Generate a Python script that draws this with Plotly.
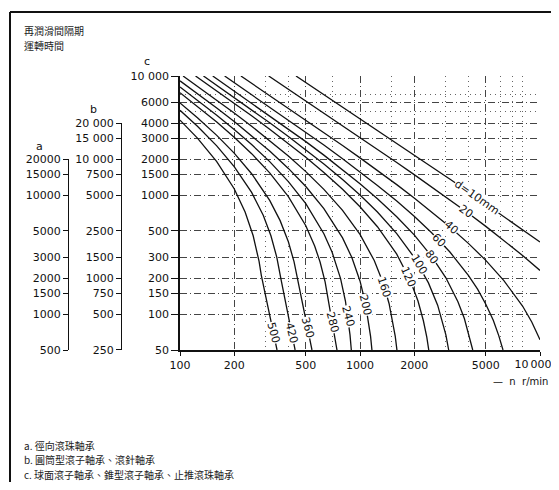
import math
import plotly.graph_objects as go

# ---------------- data ----------------
# bearing bore diameters d (mm) and the relubrication-interval curves (scale c, hours)
d_values = [10, 20, 40, 60, 80, 100, 120, 160, 200, 240, 280, 360, 420, 500]

n_10 = [441, 500, 630, 800, 1000, 1250, 1600, 2000, 2500, 3150, 4000, 5000, 6300, 8000, 10000]
t_10 = [10000, 8814, 6987, 5494, 4387, 3502, 2727, 2174, 1731, 1365, 1067, 845, 663, 513, 403]

n_20 = [311, 400, 500, 630, 800, 1000, 1250, 1600, 2000, 2500, 3150, 4000, 5000, 6300, 8000, 10000]
t_20 = [10000, 7746, 6181, 4889, 3833, 3051, 2424, 1877, 1485, 1172, 914, 703, 546, 417, 311, 233]

n_40 = [218, 250, 315, 400, 500, 630, 800, 1000, 1250, 1600, 2000, 2500, 3150, 4000, 5000, 6300, 8000, 9000, 10000]
t_40 = [10000, 8694, 6867, 5374, 4267, 3354, 2607, 2054, 1611, 1224, 947, 725, 543, 393, 283, 191, 117, 86, 61]

n_60 = [177, 200, 250, 315, 400, 500, 630, 800, 1000, 1250, 1600, 2000, 2500, 3150, 4000, 4500, 5000, 5500, 5900, 6230]
t_60 = [10000, 8797, 6990, 5498, 4279, 3375, 2629, 2019, 1567, 1206, 890, 664, 483, 334, 212, 162, 121, 89, 66, 50]

n_80 = [152, 160, 200, 250, 315, 400, 500, 630, 800, 1000, 1250, 1600, 2000, 2500, 3000, 3500, 3800, 4050, 4230]
t_80 = [10000, 9463, 7507, 5941, 4649, 3593, 2811, 2165, 1637, 1245, 932, 658, 463, 306, 202, 127, 92, 66, 50]

n_100 = [135, 160, 200, 250, 315, 400, 500, 630, 800, 1000, 1250, 1600, 2000, 2400, 2700, 2900, 3000, 3110]
t_100 = [10000, 8350, 6600, 5200, 4044, 3100, 2400, 1822, 1350, 1000, 720, 475, 300, 183, 119, 83, 67, 50]

n_120 = [122, 160, 200, 250, 315, 400, 500, 630, 800, 1000, 1250, 1600, 1900, 2100, 2250, 2350, 2410]
t_120 = [10000, 7508, 5911, 4632, 3577, 2715, 2076, 1549, 1118, 798, 542, 319, 193, 129, 88, 64, 50]

n_160 = [104, 125, 160, 200, 250, 315, 400, 500, 630, 800, 1000, 1200, 1350, 1450, 1530, 1570, 1604]
t_160 = [10000, 8214, 6278, 4894, 3787, 2874, 2127, 1574, 1117, 744, 467, 282, 180, 123, 83, 65, 50]

n_200 = [100, 125, 160, 200, 250, 315, 400, 500, 630, 800, 900, 1000, 1070, 1120, 1145, 1165]
t_200 = [9100, 7120, 5387, 4150, 3160, 2343, 1675, 1180, 771, 437, 300, 190, 125, 84, 65, 50]

n_240 = [100, 125, 160, 200, 250, 315, 400, 500, 630, 700, 780, 830, 865, 880, 895]
t_240 = [8077, 6270, 4688, 3559, 2655, 1909, 1299, 847, 474, 331, 199, 129, 85, 67, 50]

n_280 = [100, 125, 160, 200, 250, 315, 400, 500, 560, 600, 640, 680, 715, 745]
t_280 = [7247, 5573, 4109, 3063, 2227, 1536, 972, 553, 374, 274, 187, 110, 71, 50]

n_360 = [100, 125, 160, 200, 250, 315, 360, 400, 430, 455, 480, 510, 541]
t_360 = [5939, 4463, 3172, 2249, 1511, 902, 610, 405, 276, 182, 122, 78, 50]

n_420 = [100, 125, 160, 200, 250, 290, 320, 345, 365, 385, 410, 436]
t_420 = [5151, 3785, 2590, 1736, 1053, 676, 455, 300, 192, 127, 79, 50]

n_500 = [100, 125, 160, 200, 230, 255, 275, 283, 300, 322, 346]
t_500 = [4261, 3009, 1913, 1131, 722, 455, 277, 212, 139, 84, 50]

curve_n = [n_10, n_20, n_40, n_60, n_80, n_100, n_120, n_160, n_200, n_240, n_280, n_360, n_420, n_500]
curve_t = [t_10, t_20, t_40, t_60, t_80, t_100, t_120, t_160, t_200, t_240, t_280, t_360, t_420, t_500]

# curve labels (text, anchor point on the curve)
label_text = ["d=10mm", "20", "40", "60", "80", "100", "120", "160", "200", "240", "280", "360", "420", "500"]
label_n = [4467, 3882, 3206, 2750, 2517, 2124, 1866, 1368, 1077, 857, 699, 511, 418, 330]
label_t = [951, 726, 530, 417, 302, 259, 205, 169, 119, 95, 86, 77, 69, 70]
label_angle = [35, 36, 41, 46, 54, 59, 66, 72, 76, 75, 75, 75, 75, 75]

# axes
x_ticks = [100, 200, 500, 1000, 2000, 5000, 10000]
x_ticktext = ["100", "200", "500", "1000", "2000", "5000", "10\u2009000"]
x_minor = [300, 400, 700, 1500, 3000, 4000, 6000, 7000, 8000]

c_ticks = [50, 100, 150, 200, 300, 500, 1000, 1500, 2000, 3000, 4000, 6000, 10000]
c_ticktext = ["50", "100", "150", "200", "300", "500", "1000", "1500", "2000", "3000", "4000", "6000", "10 000"]
c_minor = [5000, 7000]

b_ticks = [250, 500, 750, 1000, 1500, 2500, 5000, 7500, 10000, 15000, 20000]
b_ticktext = ["250", "500", "750", "1000", "1500", "2500", "5000", "7500", "10 000", "15 000", "20 000"]

a_ticks = [500, 1000, 1500, 2000, 3000, 5000, 10000, 15000, 20000]
a_ticktext = ["500", "1000", "1500", "2000", "3000", "5000", "10000", "15000", "20000"]

title_lines = ["再潤滑間隔期", "運轉時間"]
legend_lines = ["a. 徑向滾珠軸承",
                "b. 圓筒型滾子軸承、滾針軸承",
                "c. 球面滾子軸承、錐型滾子軸承、止推滾珠軸承"]
x_title = "—  n  r/min"

# ---------------- layout geometry ----------------
PAGE_OFF = 8                      # default body margin of the html page
W = 559 - PAGE_OFF
H = 490 - 2 * PAGE_OFF            # keep the page free of scrollbars
ML, MR = 0, 19
MT = 76 - PAGE_OFF
MB = H - (350 - PAGE_OFF)
PW = W - ML - MR
PH = H - MT - MB


def px(x):
    """screen x (window pixels) -> paper x"""
    return (x - PAGE_OFF - ML) / PW


def py(y):
    """screen y (window pixels) -> paper y"""
    return (H - MB - (y - PAGE_OFF)) / PH


c_lo, c_hi = 50, 10000
c_dec = math.log10(c_hi) - math.log10(c_lo)
b_lo, b_hi = 250, 20000
a_lo, a_hi = 500, 20000

TICKFONT = dict(family="DejaVu Sans", size=11, color="#111")
CJK = "Noto Sans CJK TC"
GRID_MAJOR = "7px,3px,1px,3px"
GRID_MINOR = "1px,4px"

# main x axis labels all ticks except the right-most one, which a companion
# axis draws slightly shifted so it stays inside the page
main_x_text = x_ticktext[:-1] + [""]

fig = go.Figure()

for n, t in zip(curve_n, curve_t):
    fig.add_trace(go.Scatter(x=n, y=t, mode="lines",
                             line=dict(color="#111", width=1.3),
                             hoverinfo="skip", showlegend=False))

# helper (invisible) traces so the extra scales exist
fig.add_trace(go.Scatter(x=[100] * len(b_ticks), y=b_ticks, xaxis="x2", yaxis="y2",
                         mode="markers", marker=dict(opacity=0), hoverinfo="skip", showlegend=False))
fig.add_trace(go.Scatter(x=[100] * len(a_ticks), y=a_ticks, xaxis="x2", yaxis="y3",
                         mode="markers", marker=dict(opacity=0), hoverinfo="skip", showlegend=False))
fig.add_trace(go.Scatter(x=x_ticks, y=[c_hi] * len(x_ticks), xaxis="x3", yaxis="y",
                         mode="markers", marker=dict(opacity=0), hoverinfo="skip", showlegend=False))

annotations = []
for txt, n, t, ang in zip(label_text, label_n, label_t, label_angle):
    annotations.append(dict(x=math.log10(n), y=math.log10(t), xref="x", yref="y",
                            text=txt, showarrow=False, textangle=ang,
                            font=dict(family="DejaVu Sans", size=11, color="#111"),
                            bgcolor="white", borderpad=0,
                            xanchor="center", yanchor="middle"))

for i, line in enumerate(title_lines):
    annotations.append(dict(x=px(22), y=py(30.5 + 14.6 * i), xref="paper", yref="paper",
                            text=line, showarrow=False, xanchor="left", yanchor="middle",
                            font=dict(family=CJK, size=10, color="#222")))

for i, line in enumerate(legend_lines):
    annotations.append(dict(x=px(22), y=py(445 + 14.6 * i), xref="paper", yref="paper",
                            text=line, showarrow=False, xanchor="left", yanchor="middle",
                            font=dict(family=CJK, size=10, color="#222")))

for letter, (lx, ly) in zip(["a", "b", "c"], [(39, 146), (93, 110), (147, 62)]):
    annotations.append(dict(x=px(lx), y=py(ly), xref="paper", yref="paper",
                            text=letter, showarrow=False, xanchor="center", yanchor="middle",
                            font=dict(family="DejaVu Sans", size=11, color="#111")))

annotations.append(dict(x=px(550), y=py(381), xref="paper", yref="paper",
                        text=x_title, showarrow=False, xanchor="right", yanchor="middle",
                        font=dict(family="DejaVu Sans", size=10, color="#111")))

shapes = [
    dict(type="line", xref="paper", yref="paper", x0=px(10), x1=px(10), y0=py(12), y1=py(490),
         line=dict(color="#111", width=2)),
    dict(type="line", xref="paper", yref="paper", x0=px(10), x1=px(559), y0=py(12), y1=py(12),
         line=dict(color="#111", width=2)),
]

fig.update_layout(
    width=W, height=H, autosize=False,
    margin=dict(l=ML, r=MR, t=MT, b=MB, pad=0, autoexpand=False),
    paper_bgcolor="white", plot_bgcolor="rgba(0,0,0,0)",
    showlegend=False,
    annotations=annotations, shapes=shapes,
    xaxis=dict(type="log", range=[2, 4], domain=[px(180), 1], anchor="y", automargin=False,
               tickvals=x_ticks, ticktext=main_x_text, tickfont=TICKFONT,
               ticklabeloverflow="allow",
               ticks="outside", ticklen=4, tickcolor="#111",
               showline=True, linecolor="#111", linewidth=1.5,
               showgrid=True, gridcolor="#444", gridwidth=0.8, griddash=GRID_MAJOR,
               minor=dict(tickvals=x_minor, showgrid=True, gridcolor="#666", gridwidth=0.8,
                          griddash=GRID_MINOR, ticks=""),
               zeroline=False, fixedrange=True),
    xaxis2=dict(type="log", range=[2, 4], overlaying="x", visible=False, anchor="y2",
                automargin=False),
    xaxis3=dict(type="log", range=[2, 4], overlaying="x", anchor="y", side="bottom",
                automargin=False, tickvals=x_ticks[-1:], ticktext=x_ticktext[-1:],
                tickfont=TICKFONT, ticklabeloverflow="allow", ticklabelshift=-7,
                ticks="outside", ticklen=4, tickcolor="rgba(0,0,0,0)",
                showline=False, showgrid=False, zeroline=False, fixedrange=True),
    yaxis=dict(type="log", range=[math.log10(c_lo), math.log10(c_hi)], domain=[0, 1], anchor="x",
               automargin=False, side="left",
               tickvals=c_ticks, ticktext=c_ticktext, tickfont=TICKFONT,
               ticks="outside", ticklen=7, tickcolor="#111",
               showline=True, linecolor="#111", linewidth=1.5,
               showgrid=True, gridcolor="#444", gridwidth=0.8, griddash=GRID_MAJOR,
               minor=dict(tickvals=c_minor, showgrid=True, gridcolor="#666", gridwidth=0.8,
                          griddash=GRID_MINOR, ticks=""),
               zeroline=False, fixedrange=True),
    yaxis2=dict(type="log", range=[math.log10(b_lo), math.log10(b_hi)],
                domain=[0, (math.log10(b_hi) - math.log10(b_lo)) / c_dec],
                anchor="free", position=px(121), side="left", automargin=False,
                tickvals=b_ticks, ticktext=b_ticktext, tickfont=TICKFONT,
                ticks="outside", ticklen=5, tickcolor="#111",
                showline=True, linecolor="#111", linewidth=1.3,
                showgrid=False, zeroline=False, fixedrange=True),
    yaxis3=dict(type="log", range=[math.log10(a_lo), math.log10(a_hi)],
                domain=[0, (math.log10(a_hi) - math.log10(a_lo)) / c_dec],
                anchor="free", position=px(68), side="left", automargin=False,
                tickvals=a_ticks, ticktext=a_ticktext, tickfont=TICKFONT,
                ticks="outside", ticklen=5, tickcolor="#111",
                showline=True, linecolor="#111", linewidth=1.3,
                showgrid=False, zeroline=False, fixedrange=True),
)

fig.write_html("out.html")
